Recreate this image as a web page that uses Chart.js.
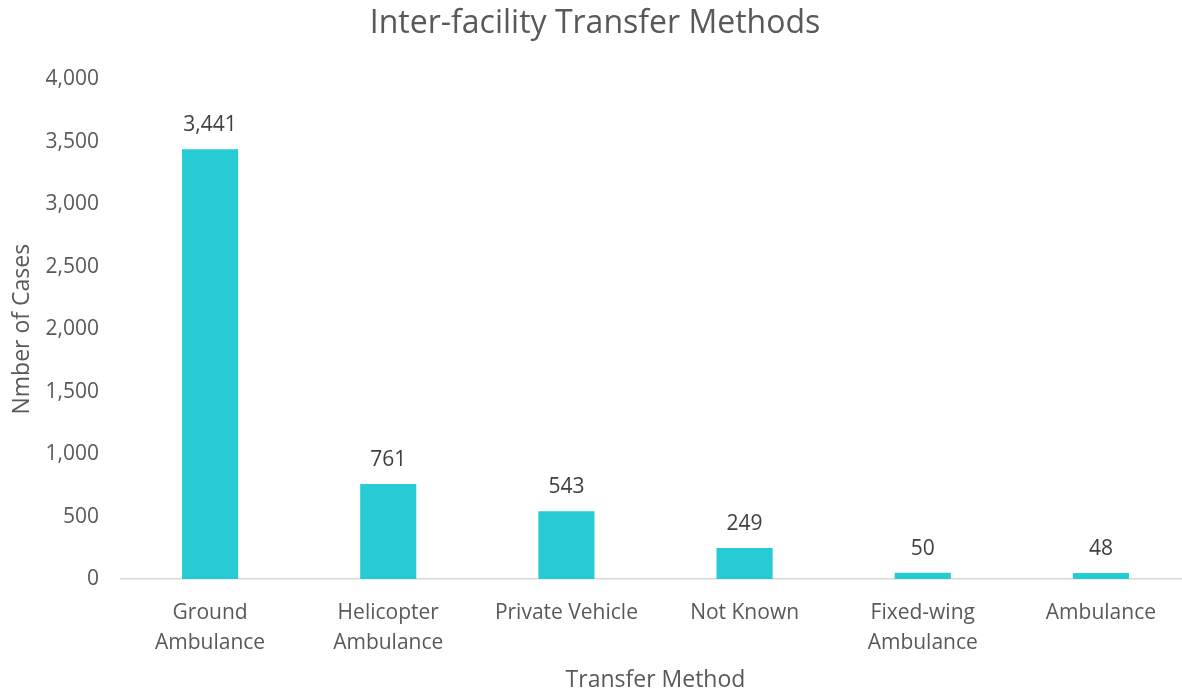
<!DOCTYPE html>
<html>
<head>
<meta charset="UTF-8">
<title>Inter-facility Transfer Methods</title>
<script src="https://cdn.jsdelivr.net/npm/chart.js@4/dist/chart.umd.min.js"></script>
<style>
  html, body { margin: 0; padding: 0; background: #fff; overflow: hidden; }
  #wrap { width: 1190px; height: 694px; }
</style>
</head>
<body>
<div id="wrap"><canvas id="chart" width="1190" height="694"></canvas></div>
<script>
// chart data
var categories = [
    ['Ground', 'Ambulance'],
    ['Helicopter', 'Ambulance'],
    'Private Vehicle',
    'Not Known',
    ['Fixed-wing', 'Ambulance'],
    'Ambulance'
];
var cases = [3441, 761, 543, 249, 50, 48];
var yTicks = [0, 500, 1000, 1500, 2000, 2500, 3000, 3500, 4000];

var FONT = '"Open Sans", "Noto Sans", sans-serif';

// value labels above each bar
var barLabels = {
    id: 'barLabels',
    afterDatasetsDraw: function (chart) {
        var ctx = chart.ctx;
        var meta = chart.getDatasetMeta(0);
        ctx.save();
        ctx.font = '21px ' + FONT;
        ctx.fillStyle = '#404040';
        ctx.textAlign = 'center';
        ctx.textBaseline = 'middle';
        meta.data.forEach(function (bar, i) {
            ctx.fillText(cases[i].toLocaleString('en-US'), bar.x, bar.y - 24);
        });
        ctx.restore();
    }
};

new Chart(document.getElementById('chart'), {
    type: 'bar',
    data: {
        labels: categories,
        datasets: [{
            data: cases,
            backgroundColor: '#26CBD3',
            borderWidth: 0,
            barPercentage: 0.315,
            categoryPercentage: 1
        }]
    },
    plugins: [barLabels],
    options: {
        responsive: false,
        animation: false,
        layout: { padding: 0 },
        plugins: {
            legend: { display: false },
            tooltip: { enabled: false },
            title: {
                display: true,
                text: 'Inter-facility Transfer Methods',
                color: '#595959',
                font: { family: FONT, size: 32, weight: 'normal', lineHeight: 1.2 },
                padding: { top: 5, bottom: 36 }
            }
        },
        scales: {
            x: {
                grid: { display: false },
                border: { color: '#d9d9d9', width: 1.5 },
                ticks: {
                    color: '#595959',
                    font: { family: FONT, size: 21, lineHeight: 1.43 },
                    padding: 11,
                    maxRotation: 0,
                    autoSkip: false
                },
                title: {
                    display: true,
                    text: 'Transfer Method',
                    color: '#595959',
                    font: { family: FONT, size: 23 },
                    padding: { top: 4, bottom: 0 }
                },
                afterFit: function (scale) { scale.height = 115; }
            },
            y: {
                min: 0,
                max: 4000,
                grid: { display: false },
                border: { display: false },
                afterBuildTicks: function (scale) {
                    scale.ticks = yTicks.map(function (v) { return { value: v }; });
                },
                ticks: {
                    color: '#595959',
                    font: { family: FONT, size: 21 },
                    padding: 14,
                    callback: function (v) { return v.toLocaleString('en-US'); }
                },
                title: {
                    display: true,
                    text: 'Nmber of Cases',
                    color: '#595959',
                    font: { family: FONT, size: 23 },
                    padding: { top: 9, bottom: 0 }
                },
                afterFit: function (scale) { scale.width = 121; }
            }
        }
    }
});
</script>
</body>
</html>
